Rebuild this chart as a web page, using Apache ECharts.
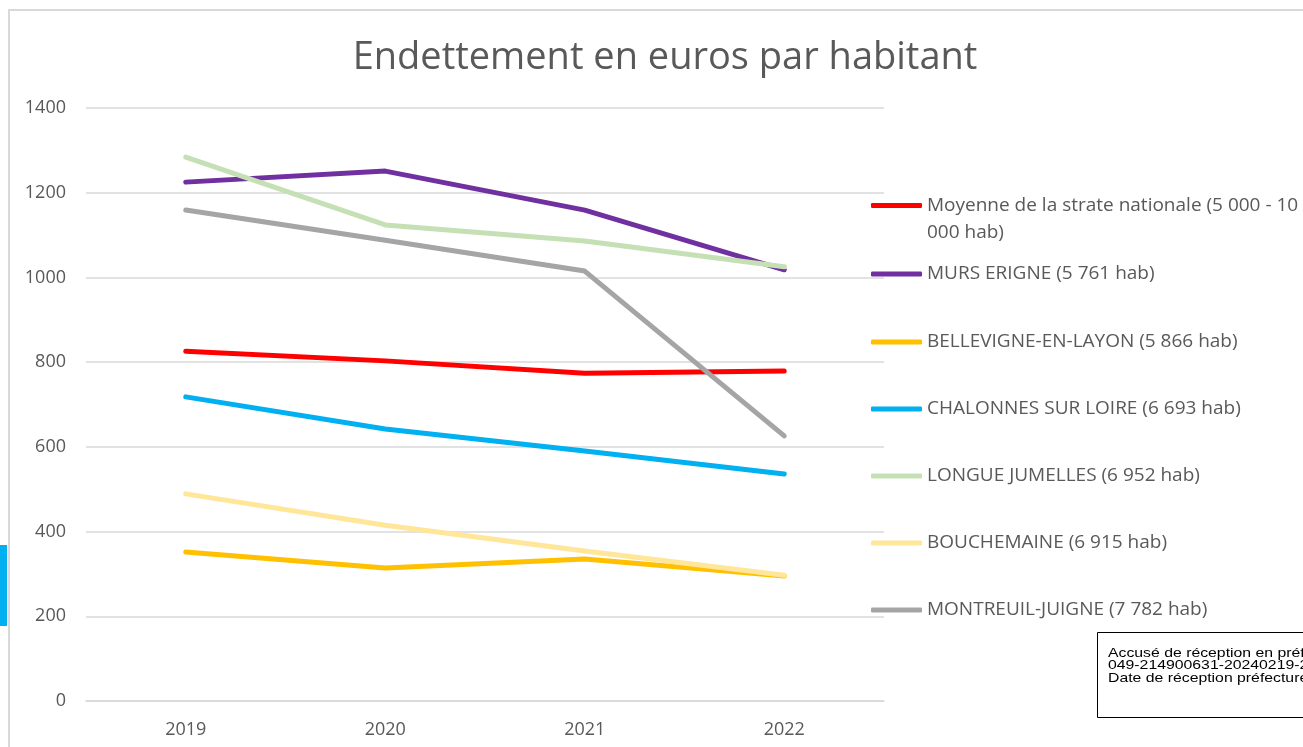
<!DOCTYPE html>
<html>
<head>
<meta charset="utf-8">
<title>Endettement en euros par habitant</title>
<script src="https://cdn.jsdelivr.net/npm/echarts@6/dist/echarts.min.js"></script>
<style>
  html, body { margin: 0; padding: 0; background: #fff; }
  #chart { width: 1303px; height: 747px; }
</style>
</head>
<body>
<div id="chart"></div>
<script>
// données
const years = ['2019', '2020', '2021', '2022']
const yTicks = [0, 200, 400, 600, 800, 1000, 1200, 1400]

const seriesNames = [
  'Moyenne de la strate nationale (5 000 - 10 000 hab)',
  'MURS ERIGNE (5 761 hab)',
  'BELLEVIGNE-EN-LAYON (5 866 hab)',
  'CHALONNES SUR LOIRE (6 693 hab)',
  'LONGUE JUMELLES (6 952 hab)',
  'BOUCHEMAINE (6 915 hab)',
  'MONTREUIL-JUIGNE (7 782 hab)'
]
const moyenne = [826, 803, 774, 779]
const mursErigne = [1225, 1251, 1159, 1018]
const bellevigne = [352, 314, 335, 295]
const chalonnes = [718, 642, 590, 536]
const longueJumelles = [1284, 1124, 1086, 1025]
const bouchemaine = [489, 415, 354, 297]
const montreuil = [1159, 1088, 1015, 626]

const colors = ['#FF0000', '#7030A0', '#FFC000', '#00B0F0', '#C5E0B4', '#FFE699', '#A5A5A5']
const values = [moyenne, mursErigne, bellevigne, chalonnes, longueJumelles, bouchemaine, montreuil]

const font = 'Open Sans'
const grey = '#595959'

// une légende par entrée pour les placer comme dans Excel
// (la première a une ligne vide devant pour que le trait soit en face de la 1re ligne)
const legendTops = [165, 264, 332, 399, 466, 533, 600]
const legends = seriesNames.map((name, i) => ({
  data: [name],
  orient: 'vertical',
  left: 871,
  top: legendTops[i],
  padding: 0,
  icon: 'roundRect',
  itemWidth: 51,
  itemHeight: 5,
  itemGap: 0,
  selectedMode: false,
  formatter: i === 0 ? ' \nMoyenne de la strate nationale (5 000 - 10\n000 hab)' : name,
  textStyle: {
    fontFamily: font,
    fontSize: 19,
    color: grey,
    lineHeight: i === 0 ? 27 : 20
  }
}))

const series = seriesNames.map((name, i) => ({
  name: name,
  type: 'line',
  data: values[i],
  showSymbol: false,
  symbol: 'none',
  color: colors[i],
  lineStyle: { width: 5, color: colors[i], cap: 'round', join: 'round' },
  emphasis: { disabled: true },
  animation: false
}))

const myChart = echarts.init(document.getElementById('chart'), null, { renderer: 'canvas' })

myChart.setOption({
  backgroundColor: '#fff',
  animation: false,
  title: {
    text: 'Endettement en euros par habitant',
    left: 660,
    textAlign: 'center',
    top: 34,
    textStyle: { fontFamily: font, fontSize: 38, fontWeight: 'normal', color: grey }
  },
  legend: legends,
  grid: { left: 86, right: 419, top: 108, bottom: 46, containLabel: false },
  xAxis: {
    type: 'category',
    data: years,
    boundaryGap: true,
    axisLine: { show: true, lineStyle: { color: '#D9D9D9', width: 1.5 } },
    axisTick: { show: false },
    axisLabel: { fontFamily: font, fontSize: 18, color: grey, margin: 20 }
  },
  yAxis: {
    type: 'value',
    min: yTicks[0],
    max: yTicks[yTicks.length - 1],
    interval: 200,
    axisLine: { show: false },
    axisTick: { show: false },
    splitLine: { lineStyle: { color: '#D9D9D9', width: 1.5 } },
    axisLabel: { fontFamily: font, fontSize: 18, color: grey, margin: 20, formatter: v => String(v) }
  },
  graphic: [
    // cadre du graphique
    { type: 'rect', shape: { x: 9, y: 10, width: 1400, height: 800 }, style: { fill: 'none', stroke: '#D9D9D9', lineWidth: 2 }, silent: true },
    // bande bleue à gauche
    { type: 'rect', shape: { x: 0, y: 545, width: 7, height: 81 }, style: { fill: '#00B0F0' }, silent: true },
    // tampon accusé de réception
    { type: 'rect', shape: { x: 1097.5, y: 632.5, width: 300, height: 85 }, style: { fill: '#fff', stroke: '#000', lineWidth: 1 }, silent: true, z: 10 },
    {
      type: 'text', x: 1108, y: 647, scaleX: 1.17, z: 11, silent: true,
      style: {
        text: 'Accusé de réception en préfecture\n049-214900631-20240219-2024\nDate de réception préfecture : 19/02/2024',
        font: '13.5px "Liberation Sans", Arial, sans-serif',
        fill: '#000',
        lineHeight: 12.5
      }
    }
  ],
  series: series
})
</script>
</body>
</html>
